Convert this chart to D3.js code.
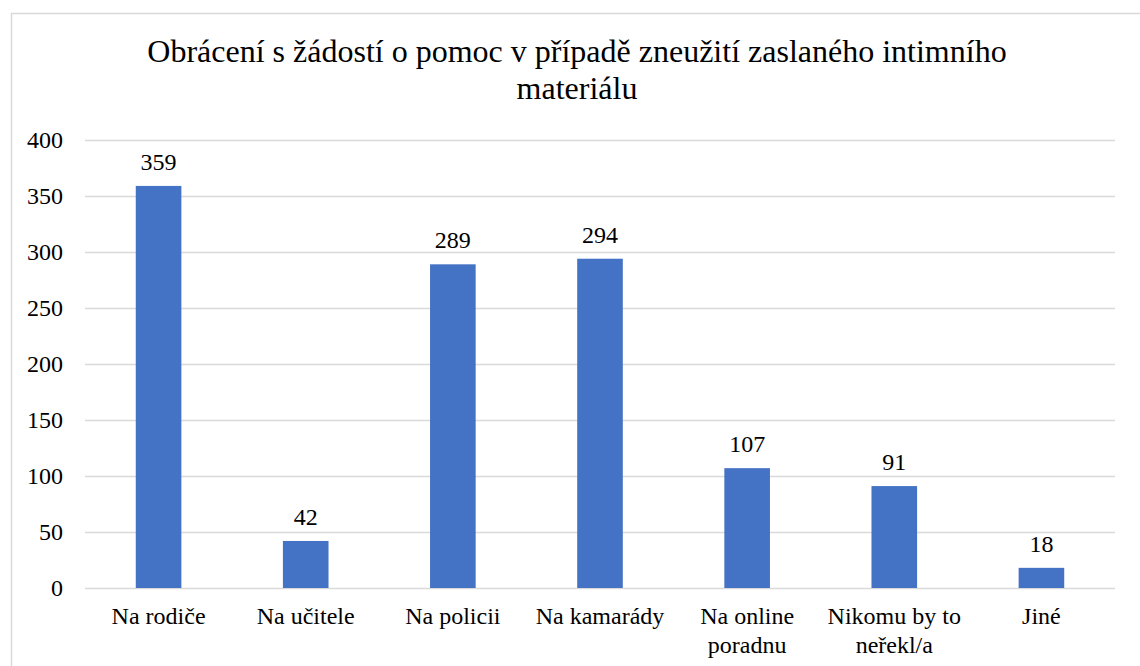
<!DOCTYPE html>
<html>
<head>
<meta charset="utf-8">
<script src="https://cdn.jsdelivr.net/npm/d3@7"></script>
<style>
	body { margin: 0; background: #fff; }
</style>
</head>
<body>
<svg></svg>
<script>
// data
var categories = ["Na rodiče", "Na učitele", "Na policii", "Na kamarády", "Na online poradnu", "Nikomu by to neřekl/a", "Jiné"];
var catLines = [["Na rodiče"], ["Na učitele"], ["Na policii"], ["Na kamarády"], ["Na online", "poradnu"], ["Nikomu by to", "neřekl/a"], ["Jiné"]];
var values = [359, 42, 289, 294, 107, 91, 18];
var yTicks = [0, 50, 100, 150, 200, 250, 300, 350, 400];
var titleLines = ["Obrácení s žádostí o pomoc v případě zneužití zaslaného intimního", "materiálu"];

var FONT = "'Liberation Serif', 'Times New Roman', serif";
var W = 1140, H = 666;
var margin = { top: 140, right: 25, bottom: 78, left: 85 },
	width = W - margin.left - margin.right,
	height = H - margin.top - margin.bottom;

var root = d3.select("svg")
	.attr("width", W)
	.attr("height", H)
	.style("font-family", FONT);

// chart frame
root.append("rect")
	.attr("x", 11.5).attr("y", 13.5)
	.attr("width", 1140).attr("height", 700)
	.attr("fill", "none")
	.attr("stroke", "#d9d9d9")
	.attr("stroke-width", 1.5);

// title
root.append("text")
	.attr("x", 577)
	.attr("y", 62)
	.attr("text-anchor", "middle")
	.style("font-family", FONT)
	.style("font-size", "32px")
	.selectAll("tspan")
	.data(titleLines)
	.enter()
	.append("tspan")
	.attr("x", 577)
	.attr("dy", function(d, i) { return i ? 37 : 0; })
	.text(function(d) { return d; });

var svg = root.append("g")
	.attr("transform", "translate(" + margin.left + "," + margin.top + ")");

var scaleX = d3.scaleBand()
	.domain(categories)
	.range([0, width])
	.padding(0);

var scaleY = d3.scaleLinear()
	.domain([0, 400])
	.range([height, 0]);

// gridlines
svg.append("g")
	.selectAll("line")
	.data(yTicks)
	.enter()
	.append("line")
	.attr("x1", 0)
	.attr("x2", width)
	.attr("y1", function(d) { return scaleY(d) + 0.5; })
	.attr("y2", function(d) { return scaleY(d) + 0.5; })
	.attr("stroke", "#d9d9d9")
	.attr("stroke-width", 1.5);

// y axis labels
var yAxis = svg.append("g")
	.call(d3.axisLeft(scaleY).tickValues(yTicks).tickSize(0).tickPadding(22));
yAxis.attr("font-family", null).attr("font-size", null);
yAxis.select(".domain").remove();
yAxis.selectAll("text")
	.style("font-family", FONT)
	.style("font-size", "24px")
	.attr("dy", "0.33em")
	.attr("fill", "#000");

// bars
var barW = scaleX.bandwidth() * 0.31;
svg.selectAll("rect.bar")
	.data(values)
	.enter()
	.append("rect")
	.attr("class", "bar")
	.attr("x", function(d, i) { return scaleX(categories[i]) + scaleX.bandwidth() / 2 - barW / 2; })
	.attr("y", function(d) { return scaleY(d); })
	.attr("width", barW)
	.attr("height", function(d) { return height - scaleY(d); })
	.attr("fill", "#4472c4");

// value labels
svg.selectAll("text.val")
	.data(values)
	.enter()
	.append("text")
	.attr("class", "val")
	.attr("x", function(d, i) { return scaleX(categories[i]) + scaleX.bandwidth() / 2; })
	.attr("y", function(d) { return scaleY(d) - 16; })
	.attr("text-anchor", "middle")
	.style("font-family", FONT)
	.style("font-size", "24px")
	.text(function(d) { return d; });

// category labels
svg.selectAll("text.cat")
	.data(catLines)
	.enter()
	.append("text")
	.attr("class", "cat")
	.attr("text-anchor", "middle")
	.attr("y", height + 36)
	.style("font-family", FONT)
	.style("font-size", "24px")
	.each(function(lines, i) {
		var cx = scaleX(categories[i]) + scaleX.bandwidth() / 2;
		d3.select(this).selectAll("tspan")
			.data(lines)
			.enter()
			.append("tspan")
			.attr("x", cx)
			.attr("dy", function(d, j) { return j ? 29 : 0; })
			.text(function(d) { return d; });
	});
</script>
</body>
</html>
